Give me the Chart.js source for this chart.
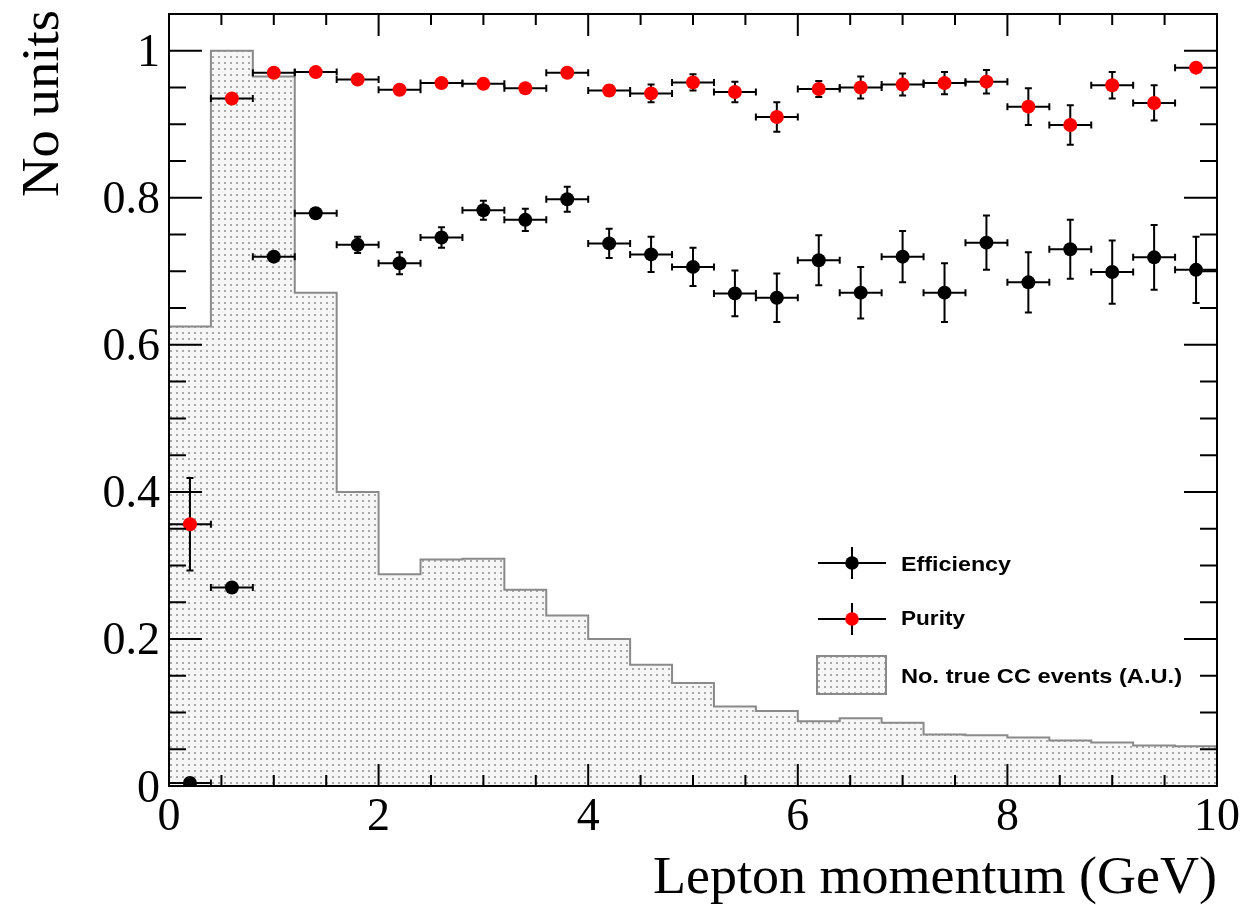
<!DOCTYPE html>
<html>
<head>
<meta charset="utf-8">
<script src="https://cdn.jsdelivr.net/npm/chart.js@4.4.1/dist/chart.umd.min.js"></script>
<style>
    html, body { margin: 0; padding: 0; background: #fff; }
    #wrap { width: 1242px; height: 905px; }
</style>
</head>
<body>
<div id="wrap"><canvas id="effChart"></canvas></div>
<script>
// bins of 0.4 GeV
const binCentres = [0.2, 0.6, 1.0, 1.4, 1.8, 2.2, 2.6, 3.0, 3.4, 3.8, 4.2, 4.6, 5.0,
                    5.4, 5.8, 6.2, 6.6, 7.0, 7.4, 7.8, 8.2, 8.6, 9.0, 9.4, 9.8];
const binWidth = 0.4;

const efficiency = [0.004, 0.270, 0.720, 0.779, 0.736, 0.711, 0.746, 0.783, 0.770, 0.798,
                    0.738, 0.723, 0.706, 0.670, 0.664, 0.715, 0.671, 0.720, 0.671, 0.739,
                    0.685, 0.730, 0.699, 0.719, 0.702];
const efficiencyErr = [0.003, 0.004, 0.006, 0.006, 0.011, 0.015, 0.014, 0.013, 0.015, 0.017,
                       0.020, 0.024, 0.026, 0.031, 0.033, 0.034, 0.035, 0.035, 0.040, 0.037,
                       0.041, 0.040, 0.043, 0.044, 0.045];

const purity = [0.356, 0.935, 0.970, 0.971, 0.961, 0.947, 0.956, 0.955, 0.949, 0.970,
                0.946, 0.942, 0.957, 0.944, 0.910, 0.948, 0.950, 0.954, 0.956, 0.958,
                0.924, 0.899, 0.953, 0.929, 0.977];
const purityErr = [0.063, 0.004, 0.003, 0.003, 0.004, 0.005, 0.005, 0.005, 0.005, 0.005,
                   0.007, 0.012, 0.011, 0.014, 0.020, 0.011, 0.015, 0.015, 0.015, 0.016,
                   0.025, 0.027, 0.018, 0.024, 0.006];

const trueCCEvents = [0.625, 1.000, 0.965, 0.671, 0.400, 0.288, 0.308, 0.309, 0.267, 0.232,
                      0.200, 0.165, 0.140, 0.108, 0.102, 0.088, 0.092, 0.086, 0.070, 0.069,
                      0.066, 0.062, 0.059, 0.055, 0.054];

const xTickLabels = ['0', '2', '4', '6', '8', '10'];
const yTickLabels = ['0', '0.2', '0.4', '0.6', '0.8', '1'];
const legendLabels = ['Efficiency', 'Purity', 'No. true CC events (A.U.)'];
const xTitle = 'Lepton momentum (GeV)';
const yTitle = 'No units';

const canvas = document.getElementById('effChart');
const ctx = canvas.getContext('2d');

// ROOT-like dotted fill
function dotPattern() {
    const tile = document.createElement('canvas');
    tile.width = 6;
    tile.height = 6;
    const t = tile.getContext('2d');
    t.fillStyle = '#f6f6f6';
    t.fillRect(0, 0, 6, 6);
    t.fillStyle = '#a8a8a8';
    t.fillRect(2, 2, 2, 2);
    return ctx.createPattern(tile, 'repeat');
}
const histFill = dotPattern();

// left bin edges + closing point for the stepped outline
const histPoints = trueCCEvents.map((v, i) => ({ x: binCentres[i] - binWidth / 2, y: v }));
histPoints.push({ x: binCentres[binCentres.length - 1] + binWidth / 2, y: trueCCEvents[trueCCEvents.length - 1] });

// draw text squeezed/stretched to a given width
function fitText(c, text, x, y, width) {
    const w = c.measureText(text).width;
    c.save();
    c.translate(x, y);
    c.scale(width / w, 1);
    c.fillText(text, 0, 0);
    c.restore();
}

function drawErrorPoint(c, px, py, halfW, colour) {
    c.beginPath();
    c.moveTo(px - halfW, py);
    c.lineTo(px + halfW, py);
    c.moveTo(px, py - 16);
    c.lineTo(px, py + 16);
    c.stroke();
    c.fillStyle = colour;
    c.beginPath();
    c.arc(px, py, 6.8, 0, Math.PI * 2);
    c.fill();
}

const errorBars = {
    id: 'errorBars',
    beforeDatasetDraw(chart, args) {
        const ds = chart.data.datasets[args.index];
        if (!ds.errY) return;
        const { ctx: c, scales: { x, y } } = chart;
        c.save();
        c.strokeStyle = '#000';
        c.lineWidth = 2;
        ds.data.forEach((p, i) => {
            const px = x.getPixelForValue(p.x);
            const py = y.getPixelForValue(p.y);
            const x0 = x.getPixelForValue(p.x - binWidth / 2);
            const x1 = x.getPixelForValue(p.x + binWidth / 2);
            const y0 = y.getPixelForValue(p.y - ds.errY[i]);
            const y1 = y.getPixelForValue(p.y + ds.errY[i]);
            c.beginPath();
            c.moveTo(x0, py); c.lineTo(x1, py);
            c.moveTo(x0, py - 3.5); c.lineTo(x0, py + 3.5);
            c.moveTo(x1, py - 3.5); c.lineTo(x1, py + 3.5);
            c.moveTo(px, y0); c.lineTo(px, y1);
            c.moveTo(px - 3.5, y0); c.lineTo(px + 3.5, y0);
            c.moveTo(px - 3.5, y1); c.lineTo(px + 3.5, y1);
            c.stroke();
        });
        c.restore();
    }
};

const frame = {
    id: 'frame',
    afterDatasetsDraw(chart) {
        const { ctx: c, chartArea: a, scales: { x, y } } = chart;
        c.save();
        c.strokeStyle = '#000';
        c.lineWidth = 2;
        c.strokeRect(a.left, a.top, a.right - a.left, a.bottom - a.top);

        c.beginPath();
        for (let k = 0; k <= 20; k++) {
            const py = y.getPixelForValue(k * 0.05);
            const len = k % 4 === 0 ? 33 : 17;
            c.moveTo(a.left, py); c.lineTo(a.left + len, py);
            c.moveTo(a.right, py); c.lineTo(a.right - len, py);
        }
        for (let k = 0; k <= 20; k++) {
            const px = x.getPixelForValue(k * 0.5);
            const len = k % 4 === 0 ? 22 : 11;
            c.moveTo(px, a.bottom); c.lineTo(px, a.bottom - len);
            c.moveTo(px, a.top); c.lineTo(px, a.top + len);
        }
        c.stroke();

        // tick labels
        c.fillStyle = '#000';
        c.font = '46px "Liberation Serif", "Times New Roman", serif';
        c.textAlign = 'right';
        c.textBaseline = 'alphabetic';
        yTickLabels.forEach(l => {
            c.fillText(l, a.left - 9, y.getPixelForValue(parseFloat(l)) + 15.5);
        });
        c.textAlign = 'center';
        xTickLabels.forEach(l => {
            c.fillText(l, x.getPixelForValue(parseFloat(l)), a.bottom + 44);
        });

        // axis titles
        c.font = '52px "Liberation Serif", "Times New Roman", serif';
        c.textAlign = 'right';
        fitText(c, xTitle, a.right, 893, 564);
        c.save();
        c.translate(58, 10);
        c.rotate(-Math.PI / 2);
        fitText(c, yTitle, 0, 0, 187);
        c.restore();
        c.restore();
    }
};

const legendBox = {
    id: 'legendBox',
    afterDraw(chart) {
        const c = chart.ctx;
        c.save();
        c.strokeStyle = '#000';
        c.lineWidth = 2;
        drawErrorPoint(c, 852, 563, 34, '#000');
        drawErrorPoint(c, 852, 619, 34, '#ff0000');

        c.fillStyle = histFill;
        c.fillRect(817, 656, 69, 38);
        c.strokeStyle = '#8a8a8a';
        c.strokeRect(817, 656, 69, 38);

        c.fillStyle = '#000';
        c.font = 'bold 21px "Liberation Sans", Arial, sans-serif';
        c.textAlign = 'left';
        c.textBaseline = 'alphabetic';
        fitText(c, legendLabels[0], 901, 571, 110);
        fitText(c, legendLabels[1], 901, 625, 64);
        fitText(c, legendLabels[2], 901, 683, 281);
        c.restore();
    }
};

new Chart(ctx, {
    type: 'scatter',
    data: {
        datasets: [
            {
                label: legendLabels[1],
                data: binCentres.map((b, i) => ({ x: b, y: purity[i] })),
                errY: purityErr,
                pointRadius: 7,
                pointBackgroundColor: '#ff0000',
                pointBorderWidth: 0,
                order: 1
            },
            {
                label: legendLabels[0],
                data: binCentres.map((b, i) => ({ x: b, y: efficiency[i] })),
                errY: efficiencyErr,
                pointRadius: 7,
                pointBackgroundColor: '#000',
                pointBorderWidth: 0,
                order: 2
            },
            {
                type: 'line',
                label: legendLabels[2],
                data: histPoints,
                stepped: 'before',
                fill: 'origin',
                backgroundColor: histFill,
                borderColor: '#8a8a8a',
                borderWidth: 2,
                pointRadius: 0,
                order: 3
            }
        ]
    },
    options: {
        responsive: true,
        maintainAspectRatio: false,
        animation: false,
        events: [],
        layout: { padding: { left: 169, right: 25, top: 14, bottom: 119 } },
        plugins: {
            legend: { display: false },
            tooltip: { enabled: false }
        },
        scales: {
            x: { type: 'linear', min: 0, max: 10, display: false },
            y: { type: 'linear', min: 0, max: 1.05, display: false }
        }
    },
    plugins: [errorBars, frame, legendBox]
});
</script>
</body>
</html>
